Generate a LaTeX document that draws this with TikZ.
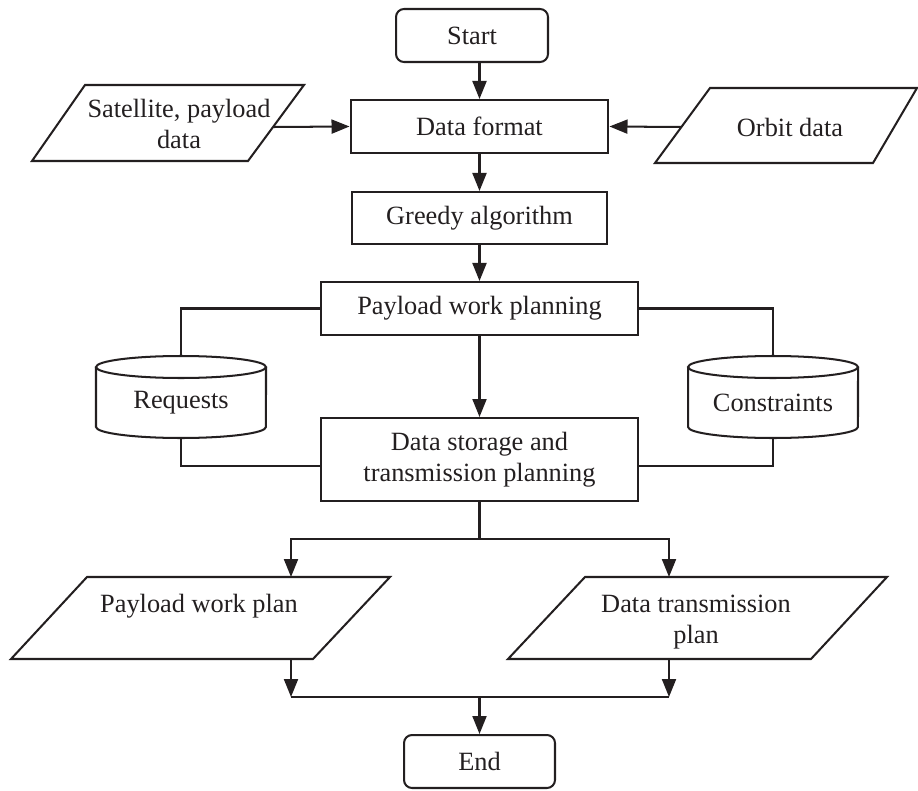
\documentclass[tikz,border=0pt]{standalone}
\usepackage{fontspec}
\setmainfont{Liberation Serif}
\usetikzlibrary{arrows.meta}
\definecolor{ink}{HTML}{231F20}
\tikzset{
  ln/.style={line width=1.15pt, draw=ink},
  arr/.style={ln, -{Triangle[length=0.36cm,width=0.28cm]}},
  box/.style={ln, rectangle, inner sep=0pt, align=center, text=ink},
  term/.style={box, rounded corners=0.16cm},
  txt/.style={inner sep=0pt, align=center, text=ink},
}
\begin{document}
\begin{tikzpicture}[x=0.02cm,y=-0.02cm,font=\fontsize{15pt}{17.5pt}\selectfont]
\useasboundingbox (0,0) rectangle (918,790);
% main boxes
\node[term, minimum width=3.04cm, minimum height=1.06cm] (start) at (472,35.5) {Start};
\node[box, minimum width=5.16cm, minimum height=1.06cm] (df) at (479.5,126.5) {Data format};
\node[box, minimum width=5.12cm, minimum height=1.04cm] (gr) at (479.5,218) {Greedy algorithm};
\node[box, minimum width=6.34cm, minimum height=1.06cm] (pwp) at (479.5,308.5) {Payload work planning};
\node[box, minimum width=6.34cm, minimum height=1.66cm] (dst) at (479.5,459.5) {Data storage and\\transmission planning};
\node[term, minimum width=3.02cm, minimum height=1.06cm] (end) at (479.5,761.5) {End};
% input parallelograms
\draw[ln, line join=miter] (85,85) -- (304,85) -- (248,161) -- (32,161) -- cycle;
\node[txt] (sat) at (179,124) {Satellite, payload\\data};
\coordinate (satE) at (274,127);
\draw[ln, line join=miter] (710,88) -- (917,88) -- (873,163) -- (655,163) -- cycle;
\node[txt] (orb) at (790,127) {Orbit data};
\coordinate (orbW) at (681,127);
% cylinders
\foreach \cx/\nm in {181/req, 773/con}{
  \draw[ln] (\cx-85,367) -- (\cx-85,427) arc[start angle=180,end angle=360,x radius=1.7cm,y radius=0.22cm] -- (\cx+85,367);
  \draw[ln] (\cx,367) ellipse[x radius=1.7cm,y radius=0.22cm];
  \coordinate (\nm T) at (\cx,356);
  \coordinate (\nm B) at (\cx,438);
}
\node[txt] (req) at (181,403) {Requests};
\node[txt] (con) at (773,403) {Constraints};
% output parallelograms
\draw[ln, line join=miter] (87,577) -- (390,577) -- (313,659) -- (11,659) -- cycle;
\node[txt] (pwplan) at (199,606) {Payload work plan};
\draw[ln, line join=miter] (585,577) -- (887,577) -- (811,659) -- (508,659) -- cycle;
\node[txt] (dtplan) at (696,622) {Data transmission\\plan};
\coordinate (pwT) at (291,577);
\coordinate (pwB) at (291,659);
\coordinate (dtT) at (669,577);
\coordinate (dtB) at (669,659);
\coordinate (split) at (479.5,539);
\coordinate (join) at (479.5,697);
% connectors
\draw[arr] (df.north |- start.south) -- (df.north);
\draw[arr] (satE) -- (df.west);
\draw[arr] (orbW) -- (df.east);
\draw[arr] (df.south) -- (gr.north);
\draw[arr] (gr.south) -- (pwp.north);
\draw[arr] (pwp.south) -- (dst.north);
\draw[ln] (pwp.west) -| (reqT);
\draw[ln] (reqB) |- (dst.west |- 0,466);
\draw[ln] (pwp.east) -| (conT);
\draw[ln] (conB) |- (dst.east |- 0,466);
\draw[ln] (dst.south) -- (split);
\draw[arr] (split) -| (pwT);
\draw[arr] (split) -| (dtT);
\draw[arr] (pwB) -- (pwB |- join);
\draw[arr] (dtB) -- (dtB |- join);
\draw[ln] (pwB |- join) -- (dtB |- join);
\draw[arr] (join) -- (end.north);
\end{tikzpicture}
\end{document}
